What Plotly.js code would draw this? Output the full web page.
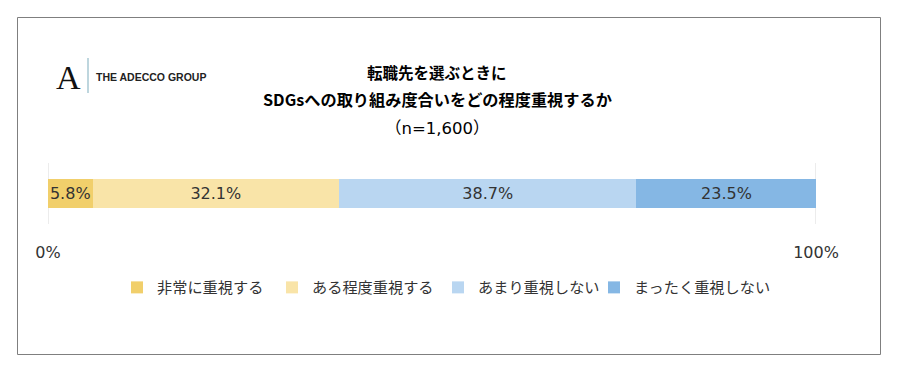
<!DOCTYPE html>
<html><head><meta charset="utf-8">
<script src="https://cdn.plot.ly/plotly-3.0.1.min.js"></script>
<style>html,body{margin:0;padding:0;background:#fff}#chart{width:898px;height:374px}</style>
</head><body><div id="chart"></div>
<script>
const categories = ["全体"];
const seriesNames = ["非常に重視する", "ある程度重視する", "あまり重視しない", "まったく重視しない"];
const seriesValues = [5.8, 32.1, 38.7, 23.5];
const seriesColors = ["#F1CF6B", "#F9E4A8", "#B9D6F1", "#85B7E4"];
const tickVals = [0, 100];
const tickText = ["0%", "100%"];
const titleLines = ["転職先を選ぶときに", "SDGsへの取り組み度合いをどの程度重視するか", "（n=1,600）"];

const L = 48, T = 163, W = 768, H = 61;
const px = x => (x - L) / W;
const py = y => (T + H - y) / H;
const jp = '"Noto Sans CJK JP", "Noto Sans", sans-serif';
const num = '"DejaVu Sans", "Noto Sans CJK JP", sans-serif';

const legendIds = ['legend', 'legend2', 'legend3', 'legend4'];
const legendLeftPx = [117, 272, 438, 594];

const traces = seriesNames.map((name, i) => ({
  type: 'bar', orientation: 'h', name: name, legend: legendIds[i],
  y: categories, x: [seriesValues[i]],
  text: [seriesValues[i].toFixed(1) + '%'],
  textposition: 'inside', insidetextanchor: 'middle', constraintext: 'none',
  textfont: {family: num, size: 16, color: '#333333'},
  marker: {color: seriesColors[i], line: {width: 0}},
  hoverinfo: 'none'
}));

const gridShapes = tickVals.map(v => ({type: 'line', xref: 'x', yref: 'paper', x0: v, x1: v, y0: 0, y1: 1,
  line: {color: '#D9D9D9', width: 1}, layer: 'below'}));

const layout = {
  width: 898, height: 374,
  margin: {l: L, r: 898 - L - W, t: T, b: 374 - T - H, pad: 0},
  paper_bgcolor: '#ffffff', plot_bgcolor: 'rgba(0,0,0,0)',
  barmode: 'stack', bargap: 0.51,
  showlegend: true,
  xaxis: {range: [0, 100], tickvals: tickVals, ticktext: tickText, showgrid: false,
    zeroline: false, showline: false,
    ticks: 'outside', ticklen: 14, tickcolor: 'rgba(0,0,0,0)',
    tickfont: {family: num, size: 16, color: '#333333'}, fixedrange: true},
  yaxis: {showticklabels: false, showgrid: false, zeroline: false, fixedrange: true},
  font: {family: jp},
  shapes: [
    {type: 'rect', xref: 'paper', yref: 'paper', x0: px(17.5), x1: px(880.5), y0: py(354.5), y1: py(17.5),
      line: {color: '#7F7F7F', width: 1}, fillcolor: 'rgba(0,0,0,0)', layer: 'below'},
    {type: 'line', xref: 'paper', yref: 'paper', x0: px(88), x1: px(88), y0: py(58), y1: py(93),
      line: {color: '#A9C9D3', width: 1.5}}
  ].concat(gridShapes),
  annotations: [
    {text: '<b>' + titleLines[0] + '</b>', xref: 'paper', yref: 'paper', x: px(437), y: py(72),
      showarrow: false, font: {family: jp, size: 15.5, color: '#000'}, xanchor: 'center', yanchor: 'middle'},
    {text: '<b>' + titleLines[1] + '</b>', xref: 'paper', yref: 'paper', x: px(437), y: py(99),
      showarrow: false, font: {family: jp, size: 16.2, color: '#000'}, xanchor: 'center', yanchor: 'middle'},
    {text: titleLines[2], xref: 'paper', yref: 'paper', x: px(437), y: py(128),
      showarrow: false, font: {family: num, size: 16.5, color: '#000'}, xanchor: 'center', yanchor: 'middle'},
    {text: 'A', xref: 'paper', yref: 'paper', x: px(68), y: py(77),
      showarrow: false, font: {family: 'Liberation Serif, DejaVu Serif, serif', size: 34, color: '#111'}, xanchor: 'center', yanchor: 'middle'},
    {text: '<b>THE ADECCO GROUP</b>', xref: 'paper', yref: 'paper', x: px(94), y: py(77),
      showarrow: false, font: {family: 'Liberation Sans, Arial, sans-serif', size: 10.5, color: '#222'}, xanchor: 'left', yanchor: 'middle'}
  ]
};
legendIds.forEach((id, i) => {
  layout[id] = {orientation: 'h', x: px(legendLeftPx[i]), xanchor: 'left', y: py(271), yanchor: 'top',
    itemwidth: 30, bgcolor: 'rgba(0,0,0,0)',
    font: {family: jp, size: 15.2, color: '#333333'}, itemclick: false};
});

Plotly.newPlot('chart', traces, layout, {staticPlot: true, displayModeBar: false});
</script></body></html>
